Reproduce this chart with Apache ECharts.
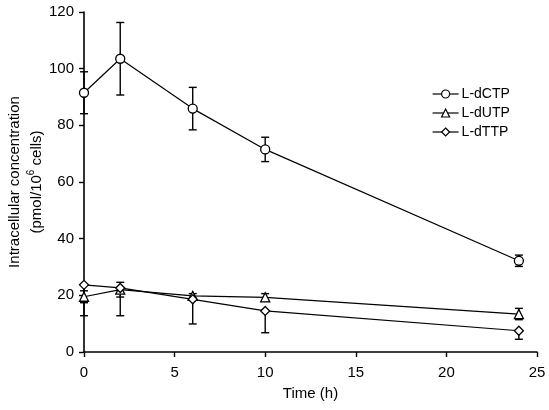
<!DOCTYPE html>
<html>
<head>
<meta charset="utf-8">
<script src="https://cdn.jsdelivr.net/npm/echarts@6/dist/echarts.min.js"></script>
<style>html,body{margin:0;padding:0;background:#fff}#c{width:549px;height:410px}</style>
</head>
<body>
<div id="c"></div>
<script>
const time = [0, 2, 6, 10, 24];
const dCTP = [91.5, 103.5, 85.9, 71.5, 32.2];
const dCTPerr = [7.4, 12.8, 7.5, 4.3, 2.0];
const dUTP = [19.5, 22.0, 19.8, 19.3, 13.4];
const dUTPerr = [2.1, 2.6, 0.8, 1.3, 2.0];
const dTTP = [23.7, 22.6, 18.6, 14.5, 7.5];
const dTTPerrDown = [10.9, 9.8, 8.7, 7.7, 3.0];
const xTicks = [0, 5, 10, 15, 20, 25];
const yTicks = [0, 20, 40, 60, 80, 100, 120];

const FONT = 'Liberation Sans, Arial, sans-serif';

function errData(vals, down, up) {
  return time.map((t, i) => [t, vals[i] - down[i], vals[i] + up[i], vals[i]]);
}
const zeros = time.map(() => 0);

function errSeries(data) {
  return {
    type: 'custom',
    silent: true,
    z: 1,
    data: data,
    renderItem: function (params, api) {
      const x = api.value(0), lo = api.value(1), hi = api.value(2), v = api.value(3);
      const pLo = api.coord([x, lo]);
      const pHi = api.coord([x, hi]);
      const w = 4;
      const st = { stroke: '#000', lineWidth: 1.4 };
      const ch = [{ type: 'line', shape: { x1: pLo[0], y1: pLo[1], x2: pHi[0], y2: pHi[1] }, style: st }];
      if (lo < v) ch.push({ type: 'line', shape: { x1: pLo[0] - w, y1: pLo[1], x2: pLo[0] + w, y2: pLo[1] }, style: st });
      if (hi > v) ch.push({ type: 'line', shape: { x1: pHi[0] - w, y1: pHi[1], x2: pHi[0] + w, y2: pHi[1] }, style: st });
      return { type: 'group', children: ch };
    }
  };
}

function lineSeries(name, vals, symbol, size) {
  return {
    name: name,
    type: 'line',
    z: 3,
    data: time.map((t, i) => [t, vals[i]]),
    symbol: symbol,
    symbolSize: size,
    showAllSymbol: true,
    lineStyle: { color: '#000', width: 1.2 },
    itemStyle: { color: '#fff', borderColor: '#000', borderWidth: 1.3 },
    emphasis: { disabled: true }
  };
}

const chart = echarts.init(document.getElementById('c'), null, { renderer: 'canvas' });
chart.setOption({
  animation: false,
  backgroundColor: '#fff',
  textStyle: { fontFamily: FONT, color: '#000' },
  grid: { left: 84, right: 12, top: 12, bottom: 58, containLabel: false, outerBoundsMode: 'none' },
  legend: {
    orient: 'vertical',
    left: 427,
    top: 82,
    itemWidth: 26,
    itemHeight: 10,
    itemGap: 5,
    lineStyle: { width: 1.2, color: '#000' },
    itemStyle: { color: '#fff', borderColor: '#000', borderWidth: 1.2 },
    textStyle: { fontFamily: FONT, fontSize: 14, color: '#000', padding: [0, 0, 0, -2] },
    data: ['L-dCTP', 'L-dUTP', 'L-dTTP']
  },
  xAxis: {
    type: 'value',
    min: 0, max: 25, interval: 5,
    name: 'Time (h)',
    nameLocation: 'middle',
    nameGap: 34,
    nameMoveOverlap: false,
    nameTextStyle: { fontFamily: FONT, fontSize: 15, color: '#000' },
    axisLine: { lineStyle: { color: '#000', width: 1.6 } },
    axisTick: { inside: false, length: 5, lineStyle: { color: '#000', width: 1.4 } },
    axisLabel: { fontFamily: FONT, fontSize: 15, color: '#000', margin: 13,
      formatter: v => xTicks.includes(v) ? String(v) : '' },
    splitLine: { show: false }
  },
  yAxis: {
    type: 'value',
    min: 0, max: 120, interval: 20,
    name: 'Intracellular concentration\n(pmol/10{sup|6} cells)',
    nameLocation: 'middle',
    nameGap: 36,
    nameMoveOverlap: false,
    nameRotate: 90,
    nameTextStyle: {
      fontFamily: FONT, fontSize: 15, color: '#000', lineHeight: 22, align: 'center',
      rich: { sup: { fontFamily: FONT, fontSize: 10, color: '#000', verticalAlign: 'top', lineHeight: 22, padding: [0, 0, 8, 0] } }
    },
    axisLine: { show: true, lineStyle: { color: '#000', width: 1.6 } },
    axisTick: { show: true, inside: false, length: 5, lineStyle: { color: '#000', width: 1.4 } },
    axisLabel: { fontFamily: FONT, fontSize: 15, color: '#000', margin: 10,
      formatter: v => yTicks.includes(v) ? String(v) : '' },
    splitLine: { show: false }
  },
  series: [
    errSeries(errData(dCTP, dCTPerr, dCTPerr)),
    errSeries(errData(dUTP, dUTPerr, dUTPerr)),
    errSeries(errData(dTTP, dTTPerrDown, zeros)),
    lineSeries('L-dCTP', dCTP, 'circle', 9),
    lineSeries('L-dUTP', dUTP, 'triangle', 9),
    lineSeries('L-dTTP', dTTP, 'diamond', 9)
  ]
});
</script>
</body>
</html>
